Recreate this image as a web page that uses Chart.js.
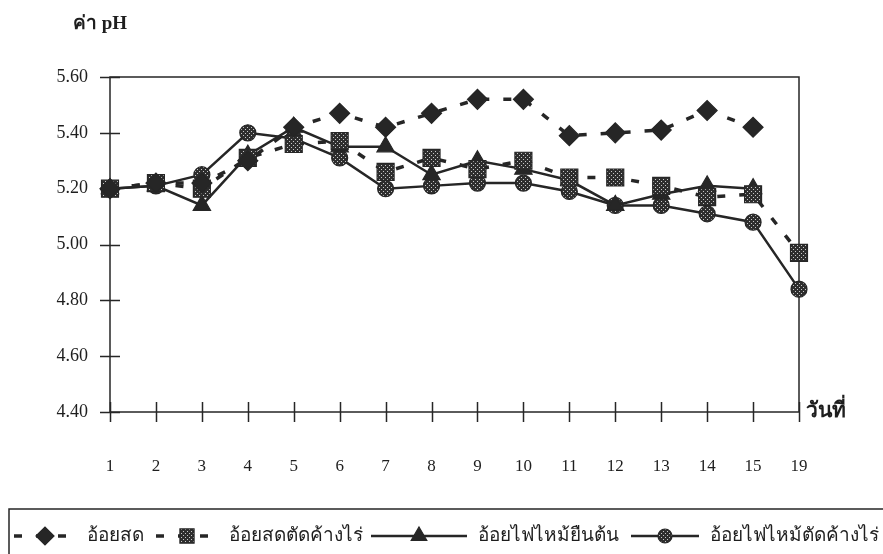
<!DOCTYPE html>
<html>
<head>
<meta charset="utf-8">
<script src="https://cdn.jsdelivr.net/npm/chart.js@4.4.1/dist/chart.umd.min.js"></script>
<style>
  html, body { margin: 0; padding: 0; background: #ffffff; }
  #wrap { width: 883px; height: 554px; }
</style>
</head>
<body>
<div id="wrap"><canvas id="c" width="883" height="554"></canvas></div>
<script>
// Sampling days and pH readings for each sugarcane treatment
const days = ['1', '2', '3', '4', '5', '6', '7', '8', '9', '10', '11', '12', '13', '14', '15', '19'];
const freshCane      = [5.20, 5.22, 5.22, 5.30, 5.42, 5.47, 5.42, 5.47, 5.52, 5.52, 5.39, 5.40, 5.41, 5.48, 5.42, null];
const freshCaneLeft  = [5.20, 5.22, 5.20, 5.31, 5.36, 5.37, 5.26, 5.31, 5.27, 5.30, 5.24, 5.24, 5.21, 5.17, 5.18, 4.97];
const burntStanding  = [5.20, 5.21, 5.14, 5.32, 5.42, 5.35, 5.35, 5.25, 5.30, 5.27, 5.23, 5.14, 5.18, 5.21, 5.20, null];
const burntCutLeft   = [5.20, 5.21, 5.25, 5.40, 5.38, 5.31, 5.20, 5.21, 5.22, 5.22, 5.19, 5.14, 5.14, 5.11, 5.08, 4.84];
const seriesNames = ['อ้อยสด', 'อ้อยสดตัดค้างไร่', 'อ้อยไฟไหม้ยืนต้น', 'อ้อยไฟไหม้ตัดค้างไร่'];
const yTicks = [4.40, 4.60, 4.80, 5.00, 5.20, 5.40, 5.60];
const yTitle = 'ค่า pH';
const xTitle = 'วันที่';

const INK = '#262626';
const SERIF = '"Liberation Serif", "DejaVu Serif", serif';

// Dark fill sprinkled with light dots, used inside the square and circle markers
function dotted(base, dot) {
  const c = document.createElement('canvas');
  c.width = 4; c.height = 4;
  const g = c.getContext('2d');
  g.fillStyle = base; g.fillRect(0, 0, 4, 4);
  g.fillStyle = dot; g.fillRect(1, 1, 1, 1); g.fillRect(3, 3, 1, 1);
  return g.createPattern(c, 'repeat');
}
const dotFill = dotted('#2e2e2e', '#c8c8c8');

// Frame, crossing tick marks and axis titles
const framePlugin = {
  id: 'frame',
  beforeDatasetsDraw(chart) {
    const { ctx, chartArea: a, scales: { x, y } } = chart;
    ctx.save();
    ctx.strokeStyle = INK;
    ctx.lineWidth = 1.5;
    ctx.strokeRect(a.left, a.top, a.right - a.left, a.bottom - a.top);
    ctx.beginPath();
    y.ticks.forEach(t => {
      const py = Math.round(y.getPixelForValue(t.value)) + 0.5;
      ctx.moveTo(a.left - 10, py); ctx.lineTo(a.left + 10, py);
    });
    days.forEach((d, i) => {
      const px = Math.round(x.getPixelForValue(i)) + 0.5;
      ctx.moveTo(px, a.bottom - 10); ctx.lineTo(px, a.bottom + 10);
    });
    ctx.stroke();
    ctx.restore();
  },
  afterDraw(chart) {
    const { ctx, chartArea: a } = chart;
    ctx.save();
    ctx.fillStyle = '#1e1e1e';
    ctx.textBaseline = 'middle';
    ctx.font = 'bold 19px ' + SERIF;
    ctx.textAlign = 'left';
    ctx.fillText(yTitle, 73, 24);
    ctx.font = 'bold 21px ' + SERIF;
    ctx.fillText(xTitle, a.right + 7, a.bottom);
    ctx.restore();
  }
};

// Boxed legend along the bottom edge: line sample, marker, name
const sampleWidths = [62, 62, 96, 68];
const legendPlugin = {
  id: 'boxLegend',
  afterDraw(chart) {
    const { ctx } = chart;
    const top = 509, cy = 536;
    ctx.save();
    ctx.strokeStyle = INK;
    ctx.lineWidth = 1.5;
    ctx.beginPath();
    ctx.moveTo(9, 560); ctx.lineTo(9, top); ctx.lineTo(890, top);
    ctx.stroke();
    ctx.font = '19px ' + SERIF;
    ctx.textBaseline = 'middle';
    ctx.textAlign = 'left';
    let xPos = 14;
    chart.data.datasets.forEach((ds, i) => {
      const w = sampleWidths[i];
      ctx.save();
      ctx.strokeStyle = ds.borderColor;
      ctx.lineWidth = ds.borderDash.length ? 3.5 : 2.5;
      ctx.setLineDash(ds.borderDash);
      ctx.beginPath();
      ctx.moveTo(xPos, cy); ctx.lineTo(xPos + w, cy);
      ctx.stroke();
      ctx.restore();
      ctx.save();
      ctx.fillStyle = ds.pointBackgroundColor;
      ctx.strokeStyle = ds.pointBorderColor;
      ctx.lineWidth = 1.2;
      Chart.helpers.drawPoint(ctx, {
        pointStyle: ds.pointStyle, rotation: 0,
        radius: ds.legendRadius, borderWidth: 1.2
      }, xPos + w / 2, cy);
      ctx.restore();
      ctx.fillStyle = '#1e1e1e';
      const tx = xPos + w + 11;
      ctx.fillText(ds.label, tx, cy);
      xPos = tx + ctx.measureText(ds.label).width + (i === 1 ? 8 : 12);
    });
    ctx.restore();
  }
};

function series(label, data, style) {
  return Object.assign({
    label, data,
    borderColor: INK,
    pointBorderColor: INK,
    pointBorderWidth: 1.2,
    fill: false,
    tension: 0,
    spanGaps: false
  }, style);
}

new Chart(document.getElementById('c'), {
  type: 'line',
  data: {
    labels: days,
    datasets: [
      series(seriesNames[0], freshCane, {
        borderWidth: 3.5, borderDash: [8, 14],
        pointStyle: 'rectRot', pointRadius: 10, legendRadius: 9,
        pointBackgroundColor: '#262626'
      }),
      series(seriesNames[1], freshCaneLeft, {
        borderWidth: 3.5, borderDash: [8, 14],
        pointStyle: 'rect', pointRadius: 12, legendRadius: 10,
        pointBackgroundColor: dotFill
      }),
      series(seriesNames[2], burntStanding, {
        borderWidth: 2.5, borderDash: [],
        pointStyle: 'triangle', pointRadius: 10, legendRadius: 9,
        pointBackgroundColor: '#262626'
      }),
      series(seriesNames[3], burntCutLeft, {
        borderWidth: 2.5, borderDash: [],
        pointStyle: 'circle', pointRadius: 8, legendRadius: 7,
        pointBackgroundColor: dotFill
      })
    ]
  },
  options: {
    responsive: false,
    devicePixelRatio: 1,
    animation: false,
    layout: { padding: { left: 0, right: 84, top: 77, bottom: 82 } },
    plugins: {
      legend: { display: false },
      title: { display: false },
      tooltip: { enabled: false }
    },
    scales: {
      x: {
        type: 'category',
        offset: false,
        grid: { display: false, drawTicks: false },
        border: { display: false },
        ticks: {
          padding: 44, color: '#1e1e1e', maxRotation: 0, autoSkip: false,
          font: { family: SERIF, size: 17 }
        },
        afterFit(s) { s.height = 60; }
      },
      y: {
        min: 4.4, max: 5.6,
        afterBuildTicks(s) { s.ticks = yTicks.map(v => ({ value: v })); },
        grid: { display: false, drawTicks: false },
        border: { display: false },
        ticks: {
          padding: 22, color: '#1e1e1e',
          font: { family: SERIF, size: 18 },
          callback: v => Number(v).toFixed(2)
        },
        afterFit(s) { s.width = 110; }
      }
    }
  },
  plugins: [framePlugin, legendPlugin]
});
</script>
</body>
</html>
